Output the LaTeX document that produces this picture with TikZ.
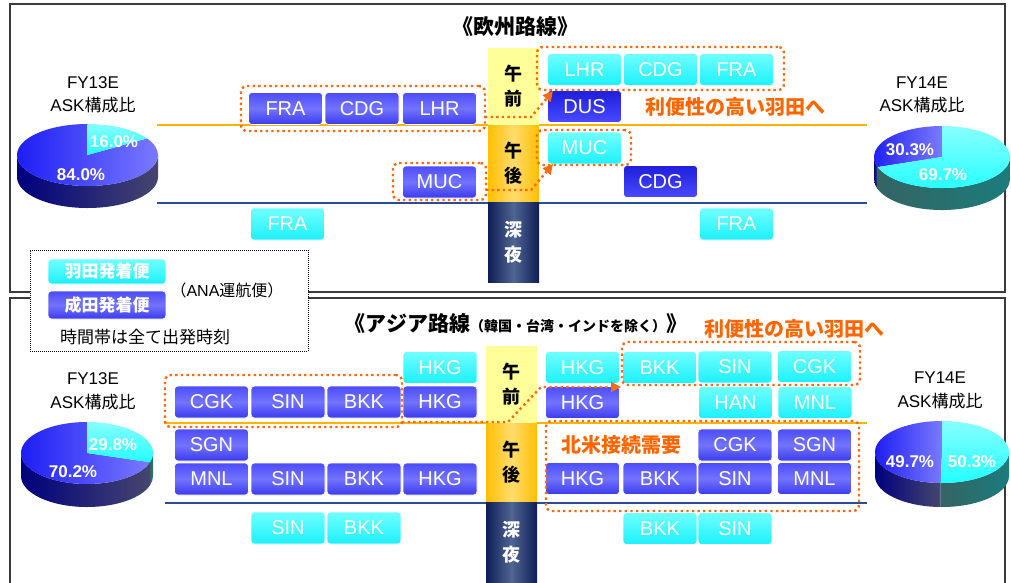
\documentclass[tikz,border=0pt]{standalone}
\usepackage{fontspec}
\setmainfont{Liberation Sans}
\newfontfamily\jp{Noto Sans CJK JP}
\usetikzlibrary{arrows.meta}
\definecolor{hanT}{HTML}{70FFFF}
\definecolor{hanB}{HTML}{1CF0FA}
\definecolor{narT}{HTML}{4C4CFA}
\definecolor{narM}{HTML}{7373FF}
\definecolor{narB}{HTML}{3A3AEE}
\definecolor{darT}{HTML}{1E1EDC}
\definecolor{darB}{HTML}{4A4AFF}
\definecolor{dotor}{HTML}{FF6A10}
\definecolor{txtor}{HTML}{FF6600}
\definecolor{oline}{HTML}{FFB400}
\definecolor{bline}{HTML}{2A4A9A}
\definecolor{amY}{HTML}{FFFF99}
\definecolor{pmE}{HTML}{FFBE00}
\definecolor{pmM}{HTML}{FFDC6E}
\definecolor{ntE}{HTML}{0E1E58}
\definecolor{ntM}{HTML}{4F6592}
\definecolor{pnl}{HTML}{3A3A3A}
\newcommand\pieslice[7]{%
  \path[#7] (#1,#2) -- ({#1+#3*cos(#5)},{#2+#4*sin(#5)}) arc[start angle=#5, end angle=#6, x radius=#3, y radius=#4] -- cycle;}
\newcommand\pieside[8]{%
  \path[#8] ({#1+#3*cos(#6)},{#2+#4*sin(#6)}) -- ({#1+#3*cos(#6)},{#2-#5+#4*sin(#6)})
    arc[start angle=#6, end angle=#7, x radius=#3, y radius=#4]
    -- ({#1+#3*cos(#7)},{#2+#4*sin(#7)})
    arc[start angle=#7, end angle=#6, x radius=#3, y radius=#4] -- cycle;}
\begin{document}
\begin{tikzpicture}[x=1pt,y=1pt,
  bx/.style={rounded corners=3.5pt, draw=white, line width=0.6pt, minimum width=74pt, minimum height=32pt, inner sep=0pt, text=white, font=\fontsize{20}{20}\selectfont},
  hb/.style={bx, top color=hanT, bottom color=hanB},
  nb/.style={bx, top color=narT, bottom color=narB, middle color=narM},
  db/.style={bx, top color=darT, bottom color=darB},
  grp/.style={draw=dotor, line width=2.4pt, dash pattern=on 2.4pt off 3.2pt, rounded corners=6pt, inner sep=0pt},
  darr/.style={draw=dotor, line width=2.4pt, dash pattern=on 2.4pt off 3.2pt, -{Triangle[length=10pt,width=10pt]}},
  panel/.style={draw=pnl, line width=2pt},
  tcol/.style={minimum width=51pt, inner sep=0pt},
  tlab/.style={font=\jp\bfseries\fontsize{18}{25}\selectfont, align=center, inner sep=0pt},
  pct/.style={text=white, font=\bfseries\fontsize{17}{17}\selectfont, inner sep=0pt},
  fy/.style={font=\fontsize{17}{17}\selectfont, inner sep=0pt},
  cjk/.style={font=\jp\fontsize{17}{17}\selectfont, inner sep=0pt},
  orj/.style={text=txtor, font=\jp\bfseries\fontsize{20}{20}\selectfont, inner sep=0pt},
  ttl/.style={font=\jp\bfseries\fontsize{21}{21}\selectfont, inner sep=0pt},
  bside/.style={left color=black!10!blue!55!black, right color={rgb,255:red,70;green,70;blue,110}},
  tside/.style={left color={rgb,255:red,52;green,100;blue,100}, right color={rgb,255:red,28;green,124;blue,124}},
  btop/.style={left color={rgb,255:red,30;green,30;blue,245}, right color={rgb,255:red,122;green,122;blue,255}},
  ctop/.style={top color={rgb,255:red,136;green,255;blue,255}, bottom color={rgb,255:red,34;green,255;blue,255}}
]
\useasboundingbox (0,0) rectangle (1011,-582);
\fill[white] (0,0) rectangle (1011,-582);

% panels
\draw[panel] (10,-4) rectangle (1005,-292);
\draw[panel] (10,-583) -- (10,-298) -- (1005,-298) -- (1005,-583);

% ================= TOP PANEL =================
\node[ttl] (t1) at (515,-27) {《欧州路線》};

\draw[oline, line width=1.6pt] (157,-125) -- (867,-125);
\draw[bline, line width=1.8pt] (157,-203) -- (867,-203);

\node[tcol, minimum height=77pt, fill=amY] (am1) at (513.5,-86.5) {};
\node[tcol, minimum height=77pt, left color=pmE, right color=pmE, middle color=pmM] (pm1) at (513.5,-163.5) {};
\node[tcol, minimum height=80pt, left color=ntE, right color=ntE, middle color=ntM] (nt1) at (513.5,-242) {};
\node[tlab] (am1t) at (am1) {午\\前};
\node[tlab] (pm1t) at (pm1) {午\\後};
\node[tlab, text=white] (nt1t) at (nt1) {深\\夜};

% boxes
\node[nb] (tFRA) at (285.5,-108.5) {FRA};
\node[nb] (tCDG) at (362,-108.5) {CDG};
\node[nb] (tLHR) at (439.5,-108.5) {LHR};
\node[nb] (tMUC) at (439.5,-182) {MUC};
\node[hb] (hLHR) at (584.5,-69.5) {LHR};
\node[hb] (hCDG) at (660.5,-69.5) {CDG};
\node[hb] (hFRA) at (736.5,-69.5) {FRA};
\node[db] (tDUS) at (584.5,-106.5) {DUS};
\node[hb] (hMUC) at (584.5,-148) {MUC};
\node[db] (tCDG2) at (660.5,-181.5) {CDG};
\node[hb] (nFRA1) at (287.5,-224) {FRA};
\node[hb] (nFRA2) at (736.5,-224) {FRA};

\node[orj] (conv1) at (735,-107) {利便性の高い羽田へ};

% groups and arrows
\node[grp, minimum width=244pt, minimum height=45pt] (g1) at (363,-108.5) {};
\node[grp, minimum width=93pt, minimum height=37pt] (g2) at (439.5,-181.5) {};
\node[grp, minimum width=247pt, minimum height=43pt] (g3) at (660.5,-68.5) {};
\node[grp, minimum width=94pt, minimum height=35pt] (g4) at (584,-147.5) {};
\coordinate (a1s) at (485,-117);
\coordinate (a1b) at (531,-117);
\coordinate (a1e) at (553,-91);
\draw[darr] (a1s) -- (a1b) -- (a1e);
\coordinate (a2s) at (486,-190);
\coordinate (a2b) at (531,-190);
\coordinate (a2e) at (553,-164);
\draw[darr] (a2s) -- (a2b) -- (a2e);

% pies top
\node[fy] (fy13a) at (93,-83) {FY13E};
\node[fy] (ask1) at (93,-105) {ASK{\jp 構成比}};
\pieside{87.5}{-155}{70.5}{31}{22}{180}{360}{bside}
\pieslice{87.5}{-155}{70.5}{31}{90}{392.4}{btop}
\pieslice{87.5}{-155}{70.5}{31}{32.4}{90}{ctop}
\node[pct] (p1a) at (114,-142) {16.0\%};
\node[pct] (p1b) at (81,-175) {84.0\%};

\node[fy] (fy14a) at (922,-83) {FY14E};
\node[fy] (ask2) at (922,-105) {ASK{\jp 構成比}};
\pieside{942}{-157}{68}{31}{22}{180}{199}{bside}
\pieside{942}{-157}{68}{31}{22}{199}{360}{tside}
\pieslice{942}{-157}{68}{31}{90}{199}{btop}
\pieslice{942}{-157}{68}{31}{199}{450}{ctop}
\node[pct] (p2a) at (910,-150) {30.3\%};
\node[pct] (p2b) at (943,-175) {69.7\%};

% ================= BOTTOM PANEL =================
\node[inner sep=0pt] (t2) at (516,-323) {{\jp\bfseries\fontsize{21}{21}\selectfont 《アジア路線}{\jp\bfseries\fontsize{14}{14}\selectfont （韓国・台湾・インドを除く）}{\jp\bfseries\fontsize{21}{21}\selectfont 》}};
\node[orj] (conv2) at (794,-329) {利便性の高い羽田へ};

\draw[oline, line width=1.6pt] (165,-423) -- (867,-423);
\draw[bline, line width=1.8pt] (165,-503) -- (867,-503);

\node[tcol, minimum height=77pt, fill=amY] (am2) at (511.5,-384.5) {};
\node[tcol, minimum height=79pt, left color=pmE, right color=pmE, middle color=pmM] (pm2) at (511.5,-462.5) {};
\node[tcol, minimum height=81pt, left color=ntE, right color=ntE, middle color=ntM] (nt2) at (511.5,-542.5) {};
\node[tlab] (am2t) at (am2) {午\\前};
\node[tlab] (pm2t) at (pm2) {午\\後};
\node[tlab, text=white] (nt2t) at (511.5,-542) {深\\夜};

% left boxes
\node[hb] (aHKG1) at (440,-367.5) {HKG};
\node[nb] (aCGK) at (211.5,-402) {CGK};
\node[nb] (aSIN) at (288,-402) {SIN};
\node[nb] (aBKK) at (364,-402) {BKK};
\node[nb] (aHKG2) at (440,-402) {HKG};
\node[nb] (aSGN) at (211.5,-445) {SGN};
\node[nb] (aMNL) at (211.5,-479) {MNL};
\node[nb] (aSIN2) at (288,-479) {SIN};
\node[nb] (aBKK2) at (364,-479) {BKK};
\node[nb] (aHKG3) at (440,-479) {HKG};
\node[hb] (aSIN3) at (288,-528) {SIN};
\node[hb] (aBKK3) at (364,-528) {BKK};

% right boxes
\node[hb] (bHKG1) at (582.5,-367.5) {HKG};
\node[hb] (bBKK1) at (659.5,-367.5) {BKK};
\node[hb] (bSIN1) at (735,-367) {SIN};
\node[hb] (bCGK1) at (814.5,-366.5) {CGK};
\node[nb] (bHKG2) at (582.5,-402.5) {HKG};
\node[hb] (bHAN) at (735.5,-402.5) {HAN};
\node[hb] (bMNL1) at (815,-402.5) {MNL};
\node[nb] (bCGK2) at (735,-445) {CGK};
\node[nb] (bSGN) at (814.5,-445) {SGN};
\node[nb] (bHKG3) at (582.5,-478.5) {HKG};
\node[nb] (bBKK2) at (660,-478.5) {BKK};
\node[nb] (bSIN2) at (735,-478.5) {SIN};
\node[nb] (bMNL2) at (814.5,-478.5) {MNL};
\node[hb] (bBKK3) at (660,-528.5) {BKK};
\node[hb] (bSIN3) at (735,-528.5) {SIN};

\node[orj] (nam) at (621,-445) {北米接続需要};

\node[grp, minimum width=237pt, minimum height=52pt] (g5) at (283.5,-401) {};
\node[grp, minimum width=238pt, minimum height=43pt] (g6) at (741,-363.5) {};
\node[grp, minimum width=313pt, minimum height=90pt] (g7) at (702.5,-466) {};
\coordinate (a3s) at (402,-422);
\coordinate (a3b) at (508,-422);
\coordinate (a3c) at (541,-387);
\coordinate (a3e) at (621,-387);
\draw[darr] (a3s) -- (a3b) -- (a3c) -- (a3e);

% pies bottom
\node[fy] (fy13b) at (93,-379) {FY13E};
\node[fy] (ask3) at (93,-402) {ASK{\jp 構成比}};
\pieside{87}{-453}{66}{31}{23}{180}{342.7}{bside}
\pieside{87}{-453}{66}{31}{23}{342.7}{360}{tside}
\pieslice{87}{-453}{66}{31}{90}{342.7}{btop}
\pieslice{87}{-453}{66}{31}{-17.3}{90}{ctop}
\node[pct] (p3a) at (113,-445) {29.8\%};
\node[pct] (p3b) at (73,-472) {70.2\%};

\node[fy] (fy14b) at (940,-378) {FY14E};
\node[fy] (ask4) at (940,-401) {ASK{\jp 構成比}};
\pieside{942}{-452}{67}{31}{24}{180}{268.9}{bside}
\pieside{942}{-452}{67}{31}{24}{268.9}{360}{tside}
\pieslice{942}{-452}{67}{31}{90}{268.9}{btop}
\pieslice{942}{-452}{67}{31}{268.9}{450}{ctop}
\node[pct] (p4a) at (910,-462) {49.7\%};
\node[pct] (p4b) at (972,-462) {50.3\%};

% legend
\node[draw=black, fill=white, line width=0.8pt, dash pattern=on 1pt off 1pt, minimum width=278pt, minimum height=101pt, inner sep=0pt] (leg) at (169,-300.5) {};
\node[hb, minimum width=118pt, minimum height=25pt, font=\jp\bfseries\fontsize{17}{17}\selectfont] (lh) at (107,-271.5) {羽田発着便};
\node[nb, minimum width=118pt, minimum height=28pt, font=\jp\bfseries\fontsize{17}{17}\selectfont] (ln) at (107,-305) {成田発着便};
\node[inner sep=0pt, font=\fontsize{16}{16}\selectfont] (lana) at (227,-290) {{\jp （}ANA{\jp 運航便）}};
\node[cjk] (lnote) at (145,-337) {時間帯は全て出発時刻};
\end{tikzpicture}
\end{document}
